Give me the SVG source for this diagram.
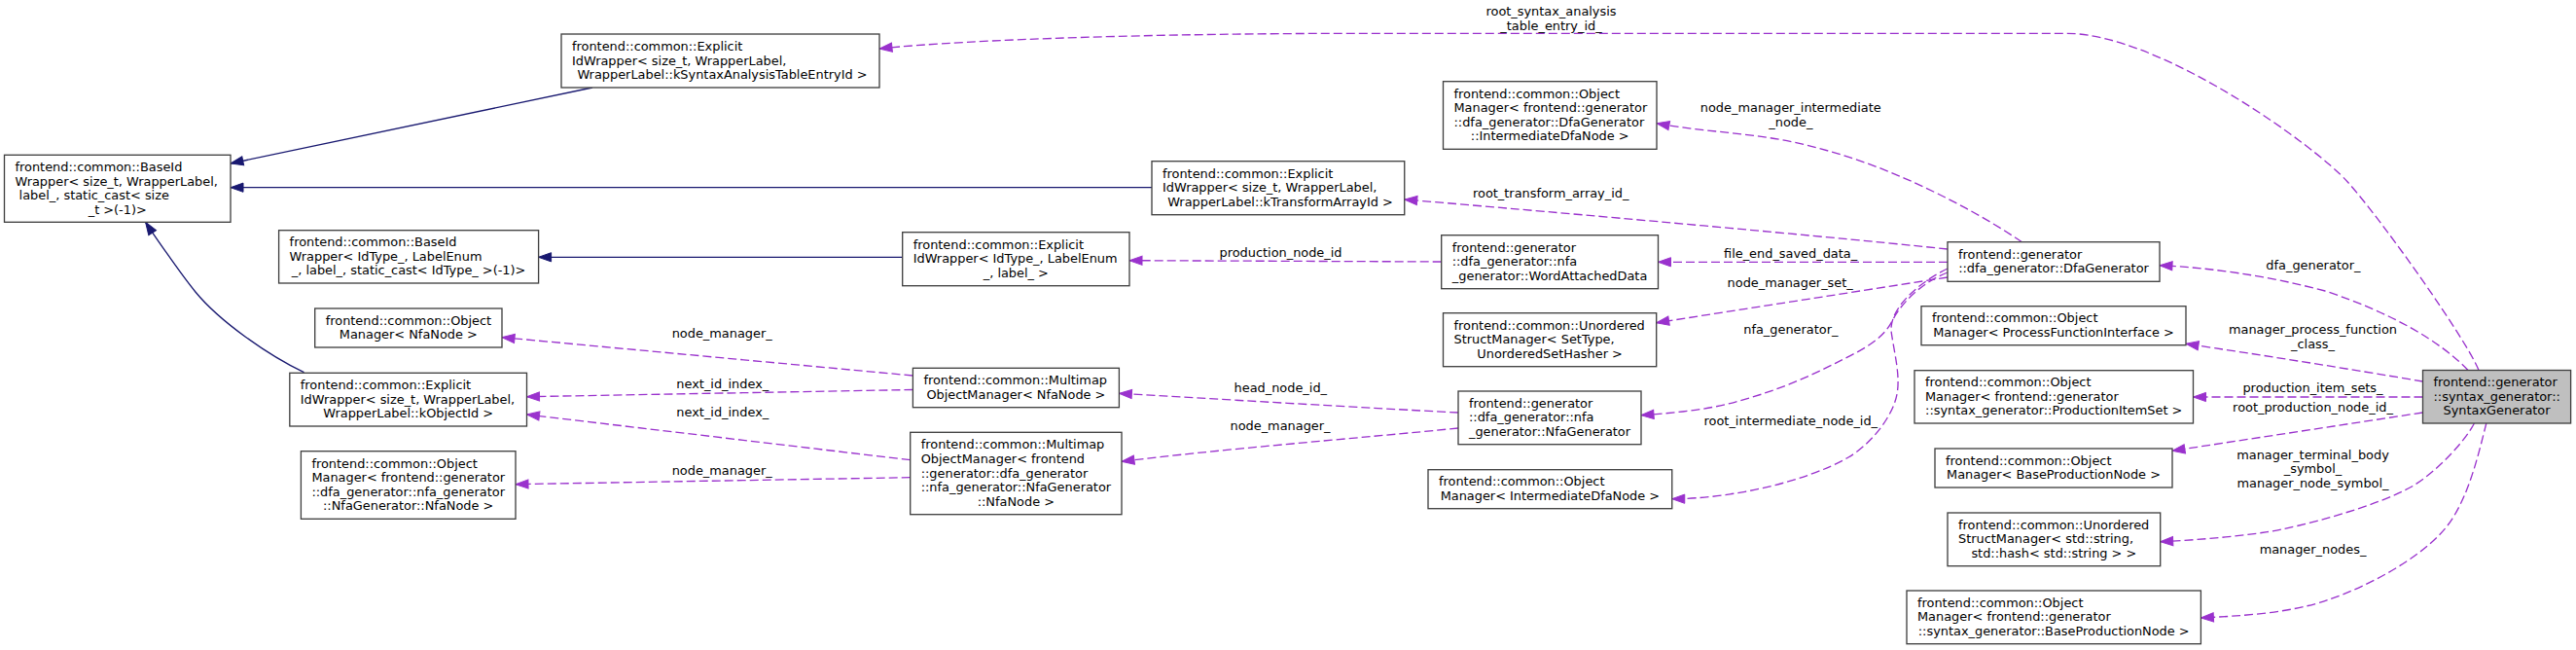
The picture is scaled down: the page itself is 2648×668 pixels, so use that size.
<svg xmlns="http://www.w3.org/2000/svg" width="2648" height="668" viewBox="0 0 2648 668">
<style>
text{font-family:"DejaVu Sans","Liberation Sans",sans-serif;font-size:12.9px;fill:#000}
.m{text-anchor:middle}
.node rect{fill:#fff;stroke:#404040;stroke-width:1.33}
#n22 rect{fill:#bfbfbf}
.inh{fill:none;stroke:#191970;stroke-width:1.33;marker-end:url(#ai)}
.use{fill:none;stroke:#9a32cd;stroke-width:1.33;stroke-dasharray:9,4;marker-end:url(#au)}
</style>
<defs>
<marker id="ai" markerUnits="userSpaceOnUse" markerWidth="14" markerHeight="10" refX="13" refY="4.6" orient="auto" overflow="visible"><path d="M0,0 L13,4.6 L0,9.2 z" fill="#191970" stroke="#191970" stroke-width="1"/></marker>
<marker id="au" markerUnits="userSpaceOnUse" markerWidth="14" markerHeight="10" refX="13" refY="4.6" orient="auto" overflow="visible"><path d="M0,0 L13,4.6 L0,9.2 z" fill="#9a32cd" stroke="#9a32cd" stroke-width="1"/></marker>
</defs>
<rect x="0" y="0" width="2648" height="668" fill="#fff"/>

<g id="edges">
<path class="inh" d="M609,90 L237,168"/>
<path class="inh" d="M1184,192.7 L237,192.7"/>
<path class="inh" d="M927.7,264.3 L553.6,264.3"/>
<path class="inh" d="M312.5,382.7 C276.5,365.5 226.3,330.9 200.9,300 C185,280.7 154.9,236.5 149.6,228.3"/>

<path class="use" d="M2548,380.5 C2536,350 2450,228 2413,186.7 C2380,150 2220,34.3 2124,34.3 L1400,34.3 C1200,34.3 1000,40 904,50"/>
<path class="use" d="M2078.5,248.7 C2041,223.5 1999.2,201.4 1958,183.3 C1922.3,167.6 1884.5,155.2 1846.4,146.7 C1799.6,136.3 1751.6,135.8 1703,126.7"/>
<path class="use" d="M2002,256 C1850,240 1540,213 1443.75,205"/>
<path class="use" d="M2002,269.3 L1704.5,269.3"/>
<path class="use" d="M2002,285 L1702.7,331.7"/>
<path class="use" d="M2002,280 C1978.8,289 1956.3,307.8 1945,330 C1934.2,351.4 1908,362.3 1886.7,373.3 C1853.8,390.2 1819,403.8 1783.3,413.3 C1752.4,421.6 1719,424.5 1687,426.7"/>
<path class="use" d="M2002,276 C1975,289 1942.7,315 1944,340 C1947,362 1953.7,385.4 1950,405 C1945.4,429.5 1921.7,457.5 1900,470 C1856.7,495 1778.75,512.7 1718.75,512.7"/>
<path class="use" d="M1481.7,269 L1161,267.7"/>
<path class="use" d="M1499,424 C1400,419 1250,410 1150.4,404.3"/>
<path class="use" d="M1499,440 C1400,450 1250,462 1153,474.3"/>
<path class="use" d="M938.4,386 L516,346.7"/>
<path class="use" d="M938.4,400.5 L541.5,407.7"/>
<path class="use" d="M935.7,472.7 L541.5,426"/>
<path class="use" d="M935.7,490.7 L530,497.7"/>
<path class="use" d="M2537,380.5 C2510,352 2460,322 2390,299 C2330,283 2270,275 2220,272.7"/>
<path class="use" d="M2490.5,392 C2420,380 2320,364 2247,353.3"/>
<path class="use" d="M2490.5,408 L2254.5,408"/>
<path class="use" d="M2490.5,424 L2233,463.3"/>
<path class="use" d="M2543.4,435 C2535,452 2505,485 2479.3,500 C2444,520 2365.6,541.3 2330.6,546.7 C2295.6,552.1 2245.7,555.7 2220.7,556.7"/>
<path class="use" d="M2555.8,435 C2547.8,467 2538.7,505.3 2520.7,533.3 C2498,569 2437.6,601.3 2392.6,616.7 C2352.6,630.4 2302.4,633 2262.4,635"/>

<g id="labels">
<text class="m" x="1594.5" y="16">root_syntax_analysis</text>
<text class="m" x="1594.5" y="30.6">_table_entry_id_</text>
<text class="m" x="1840.8" y="115.4">node_manager_intermediate</text>
<text class="m" x="1840.8" y="130">_node_</text>
<text class="m" x="1594.2" y="203">root_transform_array_id_</text>
<text class="m" x="1840.6" y="265">file_end_saved_data_</text>
<text class="m" x="1840.2" y="295">node_manager_set_</text>
<text class="m" x="1840.8" y="342.7">nfa_generator_</text>
<text class="m" x="1840.8" y="436.7">root_intermediate_node_id_</text>
<text class="m" x="1316.5" y="264">production_node_id</text>
<text class="m" x="1316.3" y="403.3">head_node_id_</text>
<text class="m" x="1316" y="442.3">node_manager_</text>
<text class="m" x="742.2" y="347.3">node_manager_</text>
<text class="m" x="742.8" y="399.3">next_id_index_</text>
<text class="m" x="742.8" y="428.3">next_id_index_</text>
<text class="m" x="742.2" y="488.3">node_manager_</text>
<text class="m" x="2377.9" y="277">dfa_generator_</text>
<text class="m" x="2377.5" y="343.3">manager_process_function</text>
<text class="m" x="2377.5" y="357.9">_class_</text>
<text class="m" x="2377.5" y="403.3">production_item_sets_</text>
<text class="m" x="2377.5" y="423.3">root_production_node_id_</text>
<text class="m" x="2377.5" y="471.7">manager_terminal_body</text>
<text class="m" x="2377.5" y="486.3">_symbol_</text>
<text class="m" x="2377.5" y="500.9">manager_node_symbol_</text>
<text class="m" x="2377.5" y="569.3">manager_nodes_</text>
</g>
</g>

<g id="n1" class="node"><rect x="4.5" y="159.3" width="232.5" height="69"/>
<text x="15.5" y="175.9">frontend::common::BaseId</text>
<text x="15.5" y="190.5">Wrapper&lt; size_t, WrapperLabel,</text>
<text x="19.6" y="205.1">label_, static_cast&lt; size</text>
<text class="m" x="120.75" y="219.7">_t &gt;(-1)&gt;</text></g>

<g id="n2" class="node"><rect x="286.6" y="236.7" width="267" height="54.3"/>
<text x="297.6" y="253.25">frontend::common::BaseId</text>
<text x="297.6" y="267.85">Wrapper&lt; IdType_, LabelEnum</text>
<text class="m" x="420.1" y="282.45">_, label_, static_cast&lt; IdType_ &gt;(-1)&gt;</text></g>

<g id="n3" class="node"><rect x="577" y="35" width="327" height="55"/>
<text x="588" y="51.9">frontend::common::Explicit</text>
<text x="588" y="66.5">IdWrapper&lt; size_t, WrapperLabel,</text>
<text class="m" x="742.5" y="81.1">WrapperLabel::kSyntaxAnalysisTableEntryId &gt;</text></g>

<g id="n4" class="node"><rect x="1184" y="165.7" width="259.75" height="55"/>
<text x="1195" y="182.6">frontend::common::Explicit</text>
<text x="1195" y="197.2">IdWrapper&lt; size_t, WrapperLabel,</text>
<text class="m" x="1316" y="211.8">WrapperLabel::kTransformArrayId &gt;</text></g>

<g id="n5" class="node"><rect x="927.7" y="238.7" width="233.3" height="55"/>
<text x="938.7" y="255.6">frontend::common::Explicit</text>
<text x="938.7" y="270.2">IdWrapper&lt; IdType_, LabelEnum</text>
<text class="m" x="1044.35" y="284.8">_, label_ &gt;</text></g>

<g id="n6" class="node"><rect x="323.7" y="317" width="192.3" height="40"/>
<text x="334.7" y="333.7">frontend::common::Object</text>
<text class="m" x="419.85" y="348.3">Manager&lt; NfaNode &gt;</text></g>

<g id="n7" class="node"><rect x="297.8" y="383.3" width="243.7" height="54.7"/>
<text x="308.8" y="400.05">frontend::common::Explicit</text>
<text x="308.8" y="414.65">IdWrapper&lt; size_t, WrapperLabel,</text>
<text class="m" x="419.65" y="429.25">WrapperLabel::kObjectId &gt;</text></g>

<g id="n8" class="node"><rect x="309.4" y="463.7" width="220.6" height="69.6"/>
<text x="320.4" y="480.6">frontend::common::Object</text>
<text x="320.4" y="495.2">Manager&lt; frontend::generator</text>
<text x="320.4" y="509.8">::dfa_generator::nfa_generator</text>
<text class="m" x="419.7" y="524.4">::NfaGenerator::NfaNode &gt;</text></g>

<g id="n9" class="node"><rect x="938.4" y="378.3" width="212" height="40.4"/>
<text x="949.4" y="395.2">frontend::common::Multimap</text>
<text class="m" x="1044.4" y="409.8">ObjectManager&lt; NfaNode &gt;</text></g>

<g id="n10" class="node"><rect x="935.7" y="444.3" width="217.3" height="84.4"/>
<text x="946.7" y="461.3">frontend::common::Multimap</text>
<text x="946.7" y="475.9">ObjectManager&lt; frontend</text>
<text x="946.7" y="490.5">::generator::dfa_generator</text>
<text x="946.7" y="505.1">::nfa_generator::NfaGenerator</text>
<text class="m" x="1044.35" y="519.7">::NfaNode &gt;</text></g>

<g id="n11" class="node"><rect x="1483.5" y="83.7" width="219.5" height="69.6"/>
<text x="1494.5" y="100.6">frontend::common::Object</text>
<text x="1494.5" y="115.2">Manager&lt; frontend::generator</text>
<text x="1494.5" y="129.8">::dfa_generator::DfaGenerator</text>
<text class="m" x="1593.25" y="144.4">::IntermediateDfaNode &gt;</text></g>

<g id="n12" class="node"><rect x="1481.7" y="241.7" width="222.8" height="55"/>
<text x="1492.7" y="258.6">frontend::generator</text>
<text x="1492.7" y="273.2">::dfa_generator::nfa</text>
<text class="m" x="1593.1" y="287.8">_generator::WordAttachedData</text></g>

<g id="n13" class="node"><rect x="1483.5" y="321.7" width="219.2" height="55"/>
<text x="1494.5" y="338.6">frontend::common::Unordered</text>
<text x="1494.5" y="353.2">StructManager&lt; SetType,</text>
<text class="m" x="1593.1" y="367.8">UnorderedSetHasher &gt;</text></g>

<g id="n14" class="node"><rect x="1499" y="402" width="188" height="54.7"/>
<text x="1510" y="418.75">frontend::generator</text>
<text x="1510" y="433.35">::dfa_generator::nfa</text>
<text class="m" x="1593" y="447.95">_generator::NfaGenerator</text></g>

<g id="n15" class="node"><rect x="1468" y="482.7" width="250.75" height="40"/>
<text x="1479" y="499.4">frontend::common::Object</text>
<text class="m" x="1593.4" y="514">Manager&lt; IntermediateDfaNode &gt;</text></g>

<g id="n16" class="node"><rect x="2002" y="248.7" width="218" height="40.6"/>
<text x="2013" y="265.7">frontend::generator</text>
<text class="m" x="2111" y="280.3">::dfa_generator::DfaGenerator</text></g>

<g id="n17" class="node"><rect x="1975" y="314.7" width="272" height="40"/>
<text x="1986" y="331.4">frontend::common::Object</text>
<text class="m" x="2111" y="346">Manager&lt; ProcessFunctionInterface &gt;</text></g>

<g id="n18" class="node"><rect x="1968" y="380.7" width="286.5" height="54.3"/>
<text x="1979" y="397.25">frontend::common::Object</text>
<text x="1979" y="411.85">Manager&lt; frontend::generator</text>
<text class="m" x="2111.25" y="426.45">::syntax_generator::ProductionItemSet &gt;</text></g>

<g id="n19" class="node"><rect x="1989" y="461" width="244" height="40"/>
<text x="2000" y="477.7">frontend::common::Object</text>
<text class="m" x="2111" y="492.3">Manager&lt; BaseProductionNode &gt;</text></g>

<g id="n20" class="node"><rect x="2002" y="527" width="218.7" height="54.7"/>
<text x="2013" y="543.75">frontend::common::Unordered</text>
<text x="2013" y="558.35">StructManager&lt; std::string,</text>
<text class="m" x="2111.35" y="572.95">std::hash&lt; std::string &gt; &gt;</text></g>

<g id="n21" class="node"><rect x="1960" y="607" width="302.4" height="54.7"/>
<text x="1971" y="623.75">frontend::common::Object</text>
<text x="1971" y="638.35">Manager&lt; frontend::generator</text>
<text class="m" x="2111.2" y="652.95">::syntax_generator::BaseProductionNode &gt;</text></g>

<g id="n22" class="node"><rect x="2490.5" y="380.5" width="152.1" height="54.5"/>
<text x="2501.5" y="397.15">frontend::generator</text>
<text x="2501.5" y="411.75">::syntax_generator::</text>
<text class="m" x="2566.55" y="426.35">SyntaxGenerator</text></g>
</svg>
